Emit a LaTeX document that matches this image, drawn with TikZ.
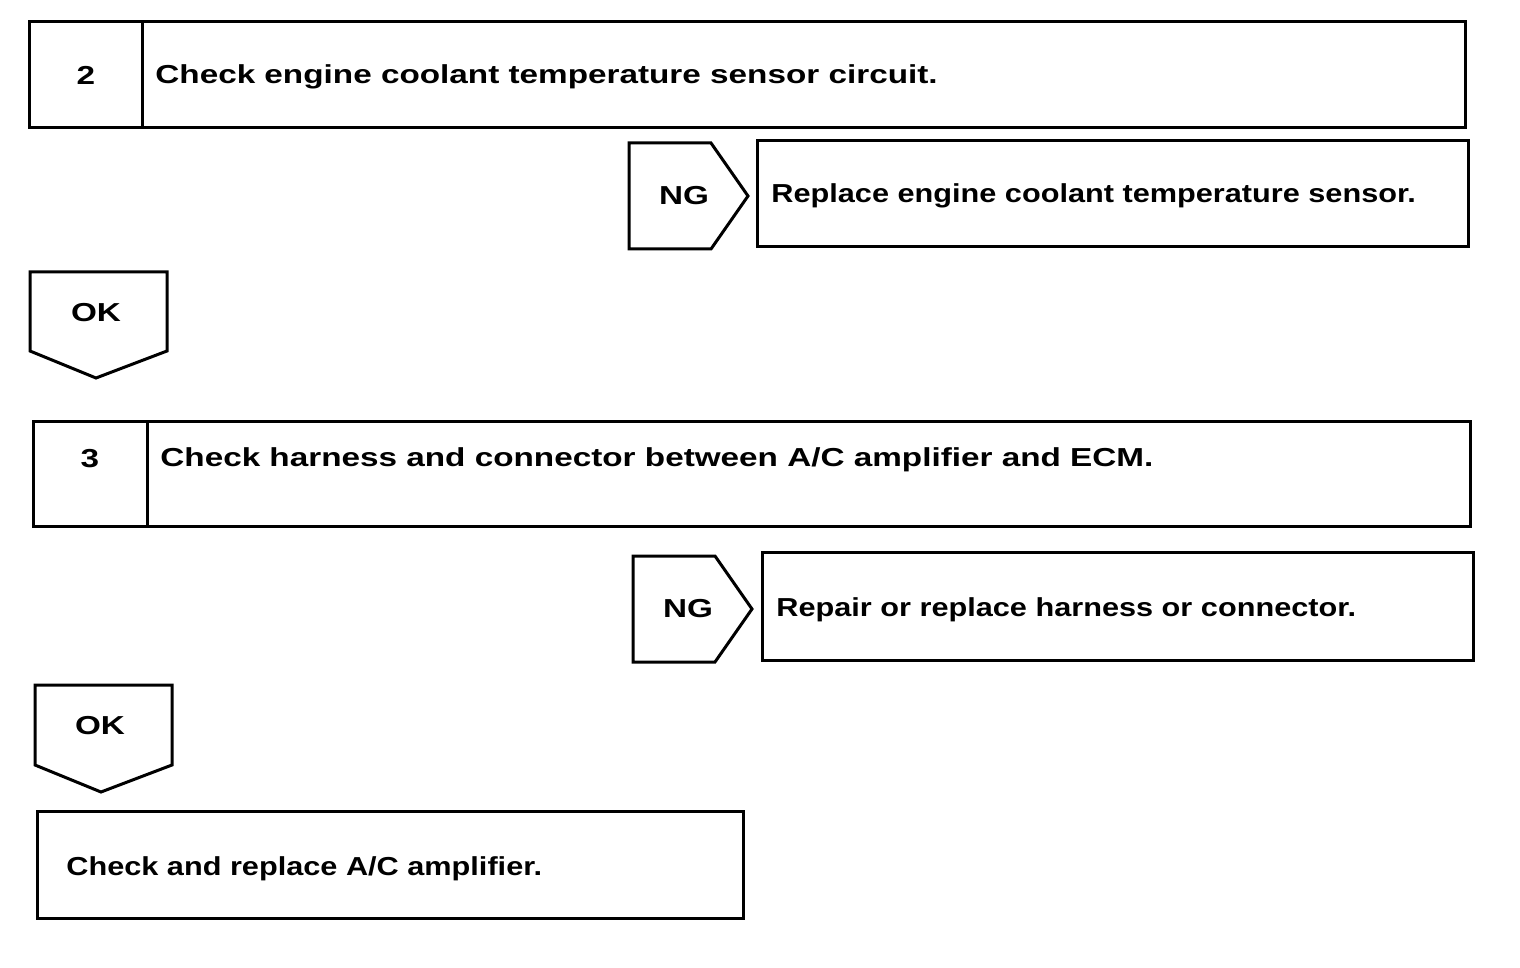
\documentclass[tikz,border=0pt]{standalone}
\usepackage{fontspec}
\newfontfamily\flowfont{Liberation Sans}[FakeStretch=1.28]
\newfontfamily\flownarrow{Liberation Sans}[FakeStretch=1.18]
\usetikzlibrary{positioning}

\tikzset{
  frame/.style={line width=1.5pt, line join=miter},
  lbl/.style={font=\flowfont\bfseries\fontsize{13}{15}\selectfont, inner sep=0pt},
  txt/.style={lbl, anchor=base west},
  rtxt/.style={txt, font=\flownarrow\bfseries\fontsize{13}{15}\selectfont},
}

\begin{document}
\begin{tikzpicture}[x=0.5pt, y=-0.5pt]
\useasboundingbox (0,0) rectangle (1520,968);
% step 2
\draw[frame] (29,22) rectangle (1465,128);
\draw[frame] (142,22) -- (142,128);
\node[lbl] (n2) at (86,75) {2};
\node[txt] (t2) at (155,84) {Check engine coolant temperature sensor circuit.};
% NG of step 2
\draw[frame] (629,143) -- (711,143) -- (748,196) -- (711,249) -- (629,249) -- cycle;
\node[lbl] (ng2) at (684,196) {NG};
\draw[frame] (757,141) rectangle (1468,247);
\node[rtxt] (r2) at (771,203) {Replace engine coolant temperature sensor.};
% OK of step 2
\draw[frame] (30,272) -- (167,272) -- (167,351) -- (96,378) -- (30,351) -- cycle;
\node[lbl] (ok2) at (96,313) {OK};
% step 3
\draw[frame] (33,421) rectangle (1470,526);
\draw[frame] (147,421) -- (147,526);
\node[lbl] (n3) at (90,459) {3};
\node[txt] (t3) at (160,466) {Check harness and connector between A/C amplifier and ECM.};
% NG of step 3
\draw[frame] (633,556) -- (715,556) -- (752,609) -- (715,662) -- (633,662) -- cycle;
\node[lbl] (ng3) at (688,609) {NG};
\draw[frame] (762,552) rectangle (1473,660);
\node[rtxt] (r3) at (776,616) {Repair or replace harness or connector.};
% OK of step 3
\draw[frame] (35,685) -- (172,685) -- (172,765) -- (101,792) -- (35,765) -- cycle;
\node[lbl] (ok3) at (100,726) {OK};
% last step
\draw[frame] (37,811) rectangle (743,918);
\node[rtxt] (r4) at (66,875) {Check and replace A/C amplifier.};
\end{tikzpicture}
\end{document}
